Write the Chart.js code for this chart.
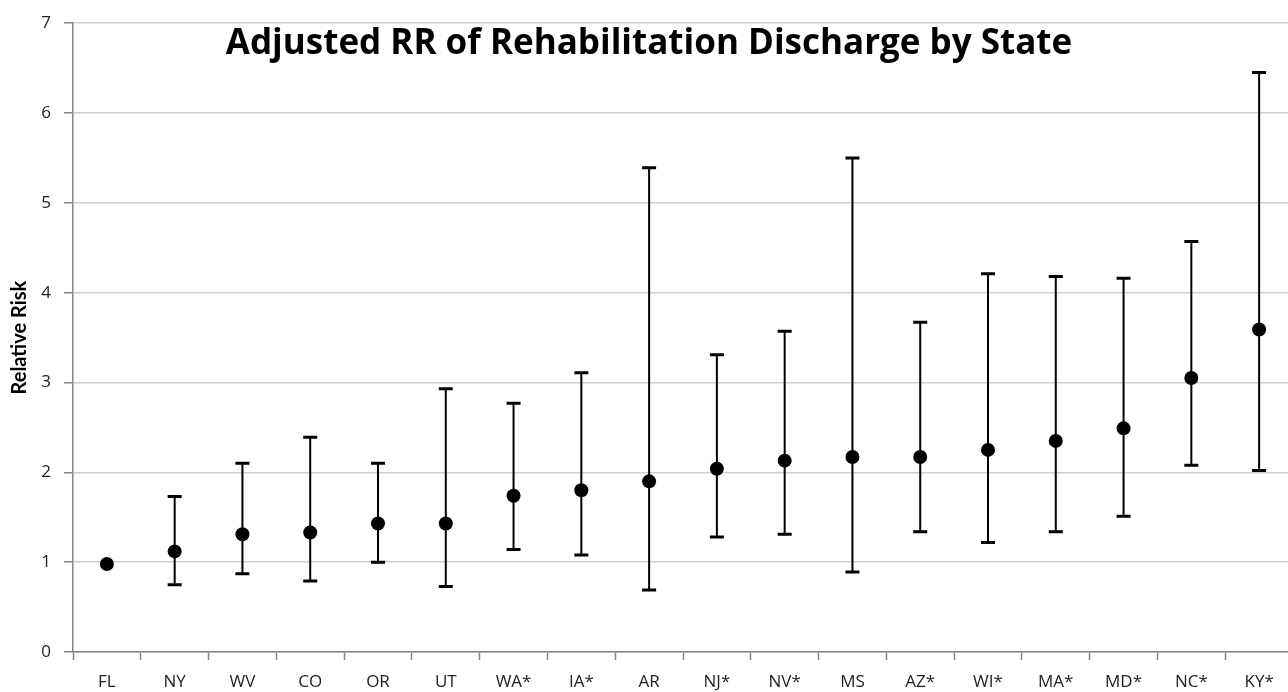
<!DOCTYPE html>
<html>
<head>
<meta charset="utf-8">
<script src="https://cdn.jsdelivr.net/npm/chart.js@4.4.1/dist/chart.umd.min.js"></script>
<style>
  html, body { margin: 0; padding: 0; background: #fff; overflow: hidden; }
  canvas { display: block; }
</style>
</head>
<body>
<canvas id="rrChart" width="1300" height="692"></canvas>
<script>
// Adjusted relative risk by state, with 95% CI
const states = ['FL', 'NY', 'WV', 'CO', 'OR', 'UT', 'WA*', 'IA*', 'AR', 'NJ*', 'NV*', 'MS', 'AZ*', 'WI*', 'MA*', 'MD*', 'NC*', 'KY*'];
const rr     = [0.98, 1.12, 1.31, 1.33, 1.43, 1.43, 1.74, 1.80, 1.90, 2.04, 2.13, 2.17, 2.17, 2.25, 2.35, 2.49, 3.05, 3.59];
const lower  = [null, 0.75, 0.87, 0.79, 1.00, 0.73, 1.14, 1.08, 0.69, 1.28, 1.31, 0.89, 1.34, 1.22, 1.34, 1.51, 2.08, 2.02];
const upper  = [null, 1.73, 2.10, 2.39, 2.10, 2.93, 2.77, 3.11, 5.39, 3.31, 3.57, 5.50, 3.67, 4.21, 4.18, 4.16, 4.57, 6.45];
const yTicks = [0, 1, 2, 3, 4, 5, 6, 7];

const chartTitle = 'Adjusted RR of Rehabilitation Discharge by State';

// whiskers + caps, drawn under the points
const errorBars = {
    id: 'errorBars',
    beforeDatasetsDraw(chart) {
        const { ctx, scales: { x, y } } = chart;
        ctx.save();
        ctx.strokeStyle = '#000';
        lower.forEach((lo, i) => {
            if (lo == null) return;
            const px = x.getPixelForValue(i);
            const yLo = y.getPixelForValue(lo);
            const yHi = y.getPixelForValue(upper[i]);
            ctx.lineWidth = 2;
            ctx.beginPath();
            ctx.moveTo(px, yLo);
            ctx.lineTo(px, yHi);
            ctx.stroke();
            ctx.lineWidth = 3;
            ctx.beginPath();
            ctx.moveTo(px - 7, yLo); ctx.lineTo(px + 7, yLo);
            ctx.moveTo(px - 7, yHi); ctx.lineTo(px + 7, yHi);
            ctx.stroke();
        });
        ctx.restore();
    }
};

// title sits inside the plot area like in the original
const innerTitle = {
    id: 'innerTitle',
    afterDraw(chart) {
        const { ctx } = chart;
        ctx.save();
        ctx.font = 'bold 35px "Open Sans"';
        ctx.fillStyle = '#000';
        ctx.textAlign = 'center';
        ctx.textBaseline = 'alphabetic';
        ctx.fillText(chartTitle, 649, 54);
        ctx.restore();
    }
};

const ctx = document.getElementById('rrChart').getContext('2d');

new Chart(ctx, {
    type: 'line',
    data: {
        labels: states,
        datasets: [{
            data: rr,
            showLine: false,
            pointRadius: 7,
            pointHoverRadius: 7,
            pointBackgroundColor: '#000',
            pointBorderColor: '#000',
            pointBorderWidth: 0
        }]
    },
    options: {
        responsive: false,
        animation: false,
        layout: {
            padding: { top: 22, right: 3, left: 0, bottom: 0 }
        },
        plugins: {
            legend: { display: false },
            tooltip: { enabled: false }
        },
        scales: {
            x: {
                offset: true,
                afterFit: (s) => { s.height = 40; },
                grid: {
                    offset: true,
                    drawOnChartArea: false,
                    tickLength: 8,
                    tickColor: '#868686',
                    tickWidth: 1.5
                },
                border: { color: '#868686', width: 1.5 },
                ticks: {
                    color: '#222',
                    padding: 12,
                    font: { family: 'Open Sans', size: 17 }
                }
            },
            y: {
                min: 0,
                max: 7,
                afterFit: (s) => { s.width = 73; },
                afterBuildTicks: (s) => { s.ticks = yTicks.map(v => ({ value: v })); },
                grid: {
                    color: '#cfcfcf',
                    lineWidth: 1.5,
                    tickLength: 9,
                    tickColor: '#868686'
                },
                border: { color: '#868686', width: 1.5 },
                ticks: {
                    color: '#222',
                    padding: 13,
                    font: { family: 'Open Sans', size: 17 }
                },
                title: {
                    display: true,
                    text: 'Relative Risk',
                    color: '#000',
                    padding: { top: 8, bottom: 0 },
                    font: { family: 'Lato', size: 20, weight: 'bold' }
                }
            }
        }
    },
    plugins: [errorBars, innerTitle]
});
</script>
</body>
</html>
